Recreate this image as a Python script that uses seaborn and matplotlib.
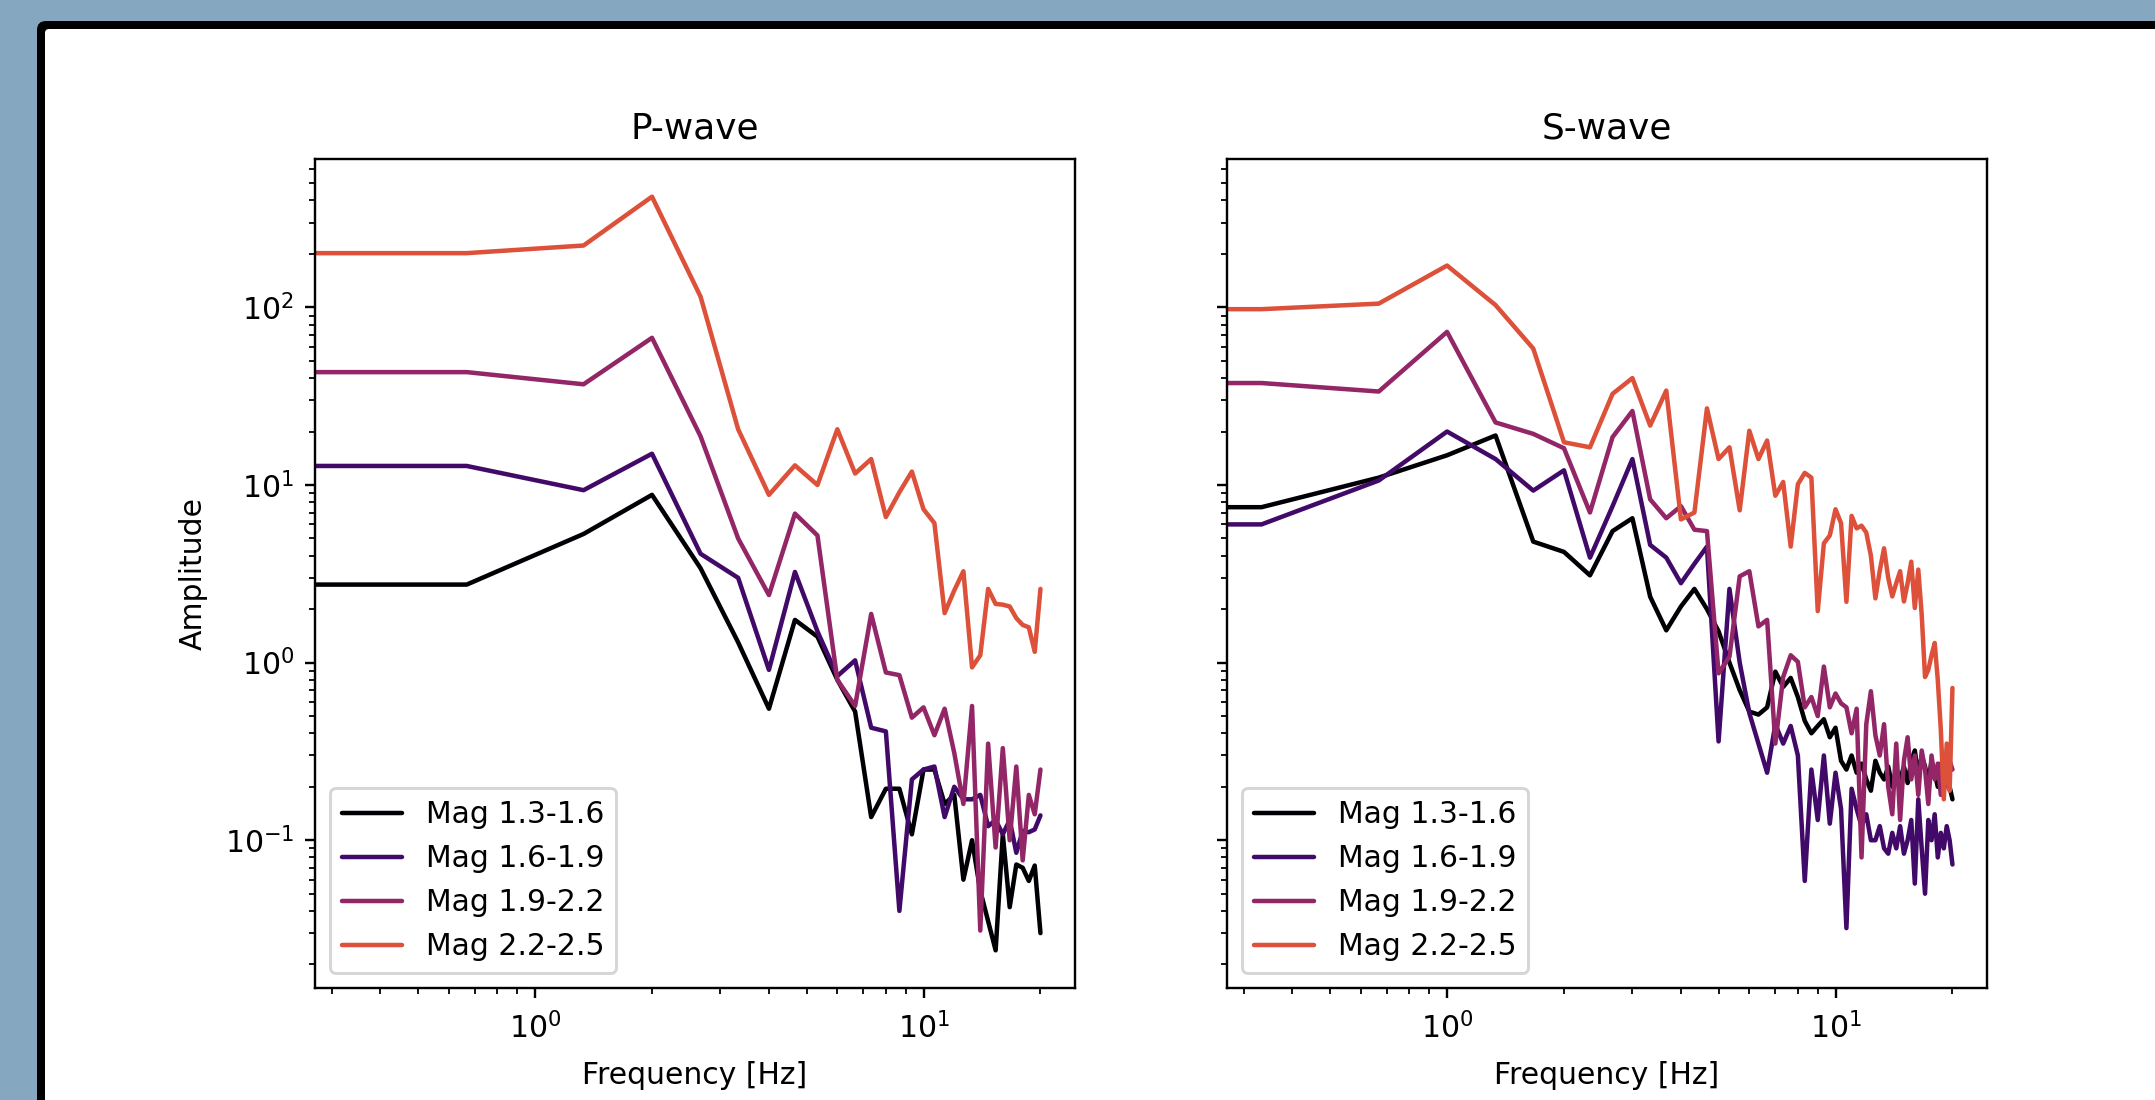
# Importing necessary libraries
import pandas as pd
import matplotlib
matplotlib.use('Agg')
import matplotlib.pyplot as plt
import seaborn as sns
from matplotlib.patches import FancyBboxPatch
from matplotlib.transforms import IdentityTransform

# Magnitude bins (legend labels) and line colours
mag_labels = ['Mag 1.3-1.6', 'Mag 1.6-1.9', 'Mag 1.9-2.2', 'Mag 2.2-2.5']
mag_colors = ['#000004', '#420a68', '#932667', '#dd513a']

# Frequency grids [Hz] (first bin is DC)
freq_p = [0.0, 0.667, 1.333, 2.0, 2.667, 3.333, 4.0, 4.667, 5.333, 6.0, 6.667, 7.333, 8.0, 8.667,
          9.333, 10.0, 10.667, 11.333, 12.0, 12.667, 13.333, 14.0, 14.667, 15.333, 16.0, 16.667,
          17.333, 18.0, 18.667, 19.333, 20.0]
freq_s = [0.0, 0.333, 0.667, 1.0, 1.333, 1.667, 2.0, 2.333, 2.667, 3.0, 3.333, 3.667, 4.0, 4.333,
          4.667, 5.0, 5.333, 5.667, 6.0, 6.333, 6.667, 7.0, 7.333, 7.667, 8.0, 8.333, 8.667, 9.0,
          9.333, 9.667, 10.0, 10.333, 10.667, 11.0, 11.333, 11.667, 12.0, 12.333, 12.667, 13.0,
          13.333, 13.667, 14.0, 14.333, 14.667, 15.0, 15.333, 15.667, 16.0, 16.333, 16.667, 17.0,
          17.333, 17.667, 18.0, 18.333, 18.667, 19.0, 19.333, 19.667, 20.0]

# P-wave amplitude spectra per magnitude bin
p_mag13 = [2.75, 2.75, 5.3, 8.8, 3.4, 1.3, 0.55, 1.74, 1.4, 0.8, 0.53, 0.135, 0.195, 0.195, 0.108,
           0.25, 0.25, 0.16, 0.18, 0.060, 0.10, 0.052, 0.035, 0.024, 0.108, 0.042, 0.073, 0.07,
           0.059, 0.072, 0.030]
p_mag16 = [12.8, 12.8, 9.35, 15.0, 4.1, 3.0, 0.91, 3.24, 1.5, 0.84, 1.03, 0.43, 0.41, 0.040, 0.22,
           0.25, 0.26, 0.135, 0.20, 0.17, 0.17, 0.18, 0.12, 0.13, 0.108, 0.13, 0.085, 0.113,
           0.111, 0.115, 0.138]
p_mag19 = [43.2, 43.2, 36.9, 67.4, 18.8, 5.0, 2.4, 6.9, 5.2, 0.80, 0.57, 1.88, 0.88, 0.85, 0.49,
           0.56, 0.39, 0.55, 0.31, 0.16, 0.57, 0.031, 0.35, 0.091, 0.33, 0.10, 0.26, 0.077, 0.18,
           0.14, 0.25]
p_mag22 = [202, 202, 223, 420, 115, 20.6, 8.8, 12.9, 10.0, 20.6, 11.6, 14.0, 6.6, 9.1, 11.9, 7.3,
           6.1, 1.90, 2.55, 3.27, 0.94, 1.10, 2.60, 2.14, 2.12, 2.07, 1.78, 1.63, 1.58, 1.15, 2.60]

# S-wave amplitude spectra per magnitude bin
s_mag13 = [7.5, 7.5, 11.0, 14.7, 19.0, 4.8, 4.2, 3.1, 5.5, 6.5, 2.35, 1.52,
           2.07, 2.6, 2.0, 1.5, 1.0, 0.7, 0.53, 0.51, 0.56,
           0.89, 0.73, 0.82, 0.64, 0.47, 0.40, 0.44, 0.48, 0.38, 0.43,
           0.28, 0.25, 0.30, 0.24, 0.27, 0.22, 0.19, 0.28, 0.24, 0.22,
           0.26, 0.20, 0.25, 0.22, 0.26, 0.21, 0.28, 0.32, 0.23, 0.30,
           0.26, 0.21, 0.28, 0.24, 0.20, 0.27, 0.22, 0.25, 0.20, 0.17]
s_mag16 = [6.0, 6.0, 10.6, 20.0, 14.0, 9.3, 12.1, 3.9, 7.6, 14.0, 4.6, 3.9,
           2.8, 3.6, 4.5, 0.36, 2.6, 1.0, 0.52, 0.35, 0.24,
           0.45, 0.35, 0.44, 0.30, 0.059, 0.25, 0.13, 0.30, 0.124, 0.24,
           0.15, 0.032, 0.195, 0.15, 0.12, 0.14, 0.10, 0.10, 0.12, 0.09,
           0.084, 0.11, 0.09, 0.12, 0.084, 0.10, 0.13, 0.057, 0.17, 0.09,
           0.050, 0.13, 0.10, 0.14, 0.08, 0.11, 0.09, 0.12, 0.10, 0.073]
s_mag19 = [37.5, 37.5, 33.6, 72.8, 22.5, 19.4, 16.1, 7.0, 18.6, 26.1, 8.3, 6.5,
           7.6, 5.6, 5.5, 0.87, 1.08, 3.06, 3.27, 1.6, 1.74,
           0.35, 0.83, 1.10, 1.01, 0.56, 0.64, 0.50, 0.95, 0.56, 0.67,
           0.59, 0.56, 0.40, 0.55, 0.080, 0.45, 0.69, 0.39, 0.30, 0.45,
           0.20, 0.14, 0.35, 0.13, 0.28, 0.38, 0.22, 0.30, 0.18, 0.32,
           0.25, 0.16, 0.30, 0.22, 0.27, 0.18, 0.30, 0.20, 0.28, 0.25]
s_mag22 = [97.7, 97.7, 105, 172, 103, 58.6, 17.4, 16.3, 32.6, 40.0, 21.6, 34.0,
           6.4, 7.0, 27.0, 14.0, 16.3, 7.2, 20.2, 14.0, 17.8,
           8.7, 10.4, 4.5, 10.1, 11.7, 11.0, 1.95, 4.7, 5.2, 7.3,
           6.1, 2.2, 6.7, 5.7, 5.9, 5.4, 4.0, 2.3, 3.3, 4.4,
           3.0, 2.36, 2.8, 3.27, 2.21, 2.8, 3.7, 2.03, 3.34, 1.86,
           0.83, 0.91, 1.1, 1.29, 0.80, 0.42, 0.17, 0.35, 0.19, 0.72]

# Build long-format tables for seaborn
def to_long(freqs, series):
    frames = [pd.DataFrame({'freq': freqs, 'amp': vals, 'mag': lab})
              for lab, vals in zip(mag_labels, series)]
    return pd.concat(frames, ignore_index=True)

df_p = to_long(freq_p, [p_mag13, p_mag16, p_mag19, p_mag22])
df_s = to_long(freq_s, [s_mag13, s_mag16, s_mag19, s_mag22])

# Plain matplotlib-like look
sns.set_style('ticks')
plt.rcParams.update({
    'font.family': 'DejaVu Sans',
    'axes.edgecolor': 'black', 'axes.labelcolor': 'black', 'text.color': 'black',
    'xtick.color': 'black', 'ytick.color': 'black',
    'axes.linewidth': 0.8,
    'xtick.major.pad': 4.5,
    'axes.titlepad': 7.0,
})

W, H, DPI = 2155, 1100, 215.5
fig, axes = plt.subplots(1, 2, sharex=True, sharey=True, figsize=(W / DPI, H / DPI), dpi=DPI)
fig.patch.set_facecolor('#85a8c0')

# Screenshot frame: black border and white page
fig.patches.append(FancyBboxPatch((37, -60), 2400, H - 21 + 60, boxstyle='round,pad=0,rounding_size=9',
                                  transform=IdentityTransform(), facecolor='black', edgecolor='none',
                                  figure=fig, zorder=-2))
fig.patches.append(FancyBboxPatch((45, -60), 2400, H - 29 + 60, boxstyle='round,pad=0,rounding_size=4',
                                  transform=IdentityTransform(), facecolor='white', edgecolor='none',
                                  figure=fig, zorder=-1))

axes[0].set_position([315 / W, 112 / H, 760 / W, 829 / H])
axes[1].set_position([1227 / W, 112 / H, 760 / W, 829 / H])

for ax, df, title in zip(axes, [df_p, df_s], ['P-wave', 'S-wave']):
    sns.lineplot(data=df, x='freq', y='amp', hue='mag', hue_order=mag_labels,
                 palette=mag_colors, estimator=None, sort=False, ax=ax)
    ax.set_title(title)
    ax.set_xlabel('Frequency [Hz]', labelpad=5.5)
    ax.set_ylabel('')

for ax in axes:
    ax.set_xscale('log')
    ax.set_yscale('log')
    ax.set_facecolor('white')
    leg = ax.get_legend()
    handles = leg.legend_handles
    labels = [t.get_text() for t in leg.get_texts()]
    ax.legend(handles, labels, loc='lower left')

axes[0].set_ylabel('Amplitude', labelpad=5.5)

plt.savefig('out.png', dpi=DPI, facecolor=fig.get_facecolor())
